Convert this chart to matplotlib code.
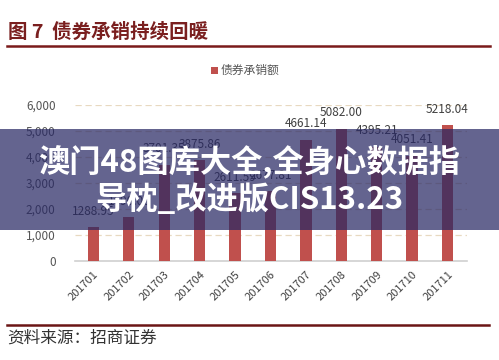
import matplotlib
matplotlib.use("Agg")
import matplotlib.pyplot as plt
from matplotlib.patches import Rectangle
from matplotlib.lines import Line2D

plt.rcParams['font.family'] = ['Noto Sans CJK SC', 'DejaVu Sans']

categories = ['201701', '201702', '201703', '201704', '201705', '201706',
              '201707', '201708', '201709', '201710', '201711']
values = [1288.95, 1690.00, 3701.35, 3875.86, 2611.59, 2677.81,
          4661.14, 5082.00, 4395.21, 4051.41, 5218.04]
yticks = [0, 1000, 2000, 3000, 4000, 5000, 6000]
ytick_labels = ['0', '1,000', '2,000', '3,000', '4,000', '5,000', '6,000']
title = '图 7  债券承销持续回暖'
legend_label = '债券承销额'
source = '资料来源：招商证券'
overlay_lines = ['澳门48图库大全,全身心数据指', '导枕_改进版CIS13.23']

W, H = 499, 360
fig = plt.figure(figsize=(W / 100, H / 100), dpi=100)
fig.patch.set_facecolor('white')

def fx(px):
    return px / W

def fy(py):
    return 1 - py / H

ax = fig.add_axes([fx(75), fy(261), fx(467) - fx(75), fy(105) - fy(261)])
x = list(range(len(categories)))
bars = ax.bar(x, values, width=0.32, color='#c0504d', zorder=3)
ax.set_ylim(0, 6000)
ax.set_xlim(-0.52, 10.55)
ax.set_yticks(yticks)
ax.set_yticklabels(ytick_labels, fontsize=8.5, color='#555555')
ax.set_xticks(x)
ax.set_xticklabels(categories, rotation=45, ha='right', rotation_mode='anchor',
                   fontsize=8, color='#404040')
ax.tick_params(axis='both', length=0)
ax.tick_params(axis='y', pad=14)
ax.tick_params(axis='x', pad=6)
for s in ['top', 'right', 'left']:
    ax.spines[s].set_visible(False)
ax.spines['bottom'].set_color('#d0d0d0')
ax.spines['bottom'].set_linewidth(1.2)
for yv in yticks[1:]:
    ax.axhline(yv, color='#e8d9c0', lw=0.9, ls=(0, (5, 3)), zorder=1)

for xi, v in zip(x, values):
    ax.annotate(f'{v:.2f}', (xi, v), xytext=(0, 16), textcoords='offset pixels',
                ha='center', va='center', fontsize=8.5, color='#404040', zorder=4)

# title and rules
fig.text(fx(8), fy(32), title, fontsize=14, fontweight='bold', color='#7a1f1f',
         ha='left', va='center')
fig.add_artist(Line2D([fx(7), fx(490)], [fy(46), fy(46)], color='#7a1a1a', lw=1.8))
fig.add_artist(Line2D([fx(7), fx(489)], [fy(325), fy(325)], color='#6b1515', lw=1.8))
fig.text(fx(7), fy(338), source, fontsize=12, color='#333333', ha='left', va='center')

# legend
fig.add_artist(Rectangle((fx(211), fy(74)), fx(7), fy(67) - fy(74),
                         facecolor='#c0504d', edgecolor='none'))
fig.text(fx(221), fy(70.5), legend_label, fontsize=8.5, color='#555555',
         ha='left', va='center')

# overlay band
fig.add_artist(Rectangle((0, fy(230)), 1, fy(129) - fy(230), transform=fig.transFigure,
                         facecolor=(40 / 255, 40 / 255, 100 / 255), alpha=0.72,
                         edgecolor='none', zorder=10))
fig.text(0.5, fy(161), overlay_lines[0], fontsize=22.5, fontweight='heavy', color='white',
         ha='center', va='center', zorder=11)
fig.text(0.5, fy(200), overlay_lines[1], fontsize=22.5, fontweight='heavy', color='white',
         ha='center', va='center', zorder=11)

fig.savefig('out.png', dpi=100, facecolor='white')
